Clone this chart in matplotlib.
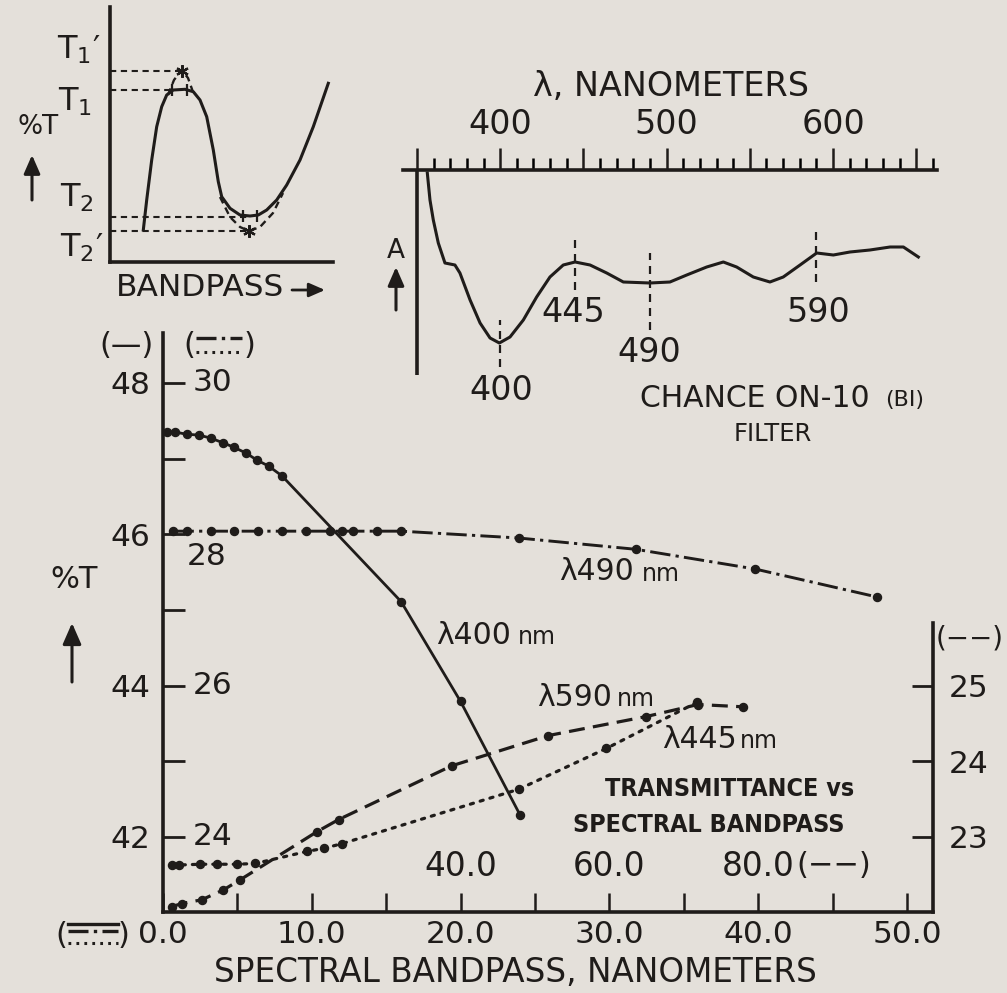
import numpy as np
import matplotlib
matplotlib.use("Agg")
import matplotlib.pyplot as plt
from matplotlib import font_manager
from matplotlib.lines import Line2D
from matplotlib.patches import FancyArrowPatch

W, H = 1007, 993
BG = "#e4e0da"
INK = "#1f1c1a"

# ---- main chart: %T versus spectral bandpass (nm) ----
# lambda 400 nm, solid line, left scale (—), bottom scale
bw_400 = [0.25, 0.8, 1.6, 2.4, 3.2, 4.0, 4.75, 5.6, 6.3, 7.1, 8.0, 16.0, 20.0, 24.0]
t_400 = [47.35, 47.35, 47.32, 47.31, 47.27, 47.21, 47.15, 47.07, 46.98, 46.90, 46.77, 45.11, 43.79, 42.29]

# lambda 490 nm, dash-dot line, inner left scale, bottom scale
bw_490 = [0.7, 1.6, 3.2, 4.8, 6.4, 8.0, 9.6, 11.2, 12.0, 12.8, 14.4, 16.0, 23.9, 31.8, 39.8, 48.0]
t_490 = [28.04, 28.04, 28.04, 28.04, 28.04, 28.04, 28.04, 28.04, 28.04, 28.04, 28.04, 28.04,
         27.95, 27.80, 27.54, 27.17]

# lambda 445 nm, dotted line, inner left scale, bottom scale
bw_445 = [0.6, 1.1, 2.5, 3.6, 5.0, 6.2, 9.7, 10.8, 12.0, 23.9, 29.8, 35.9]
t_445 = [23.63, 23.63, 23.64, 23.64, 23.64, 23.65, 23.81, 23.85, 23.91, 24.63, 25.17, 25.78]

# lambda 590 nm, dashed line, right scale (--), inner bandpass scale (--)
bw_590 = [1.2, 2.5, 5.2, 8.1, 10.3, 20.7, 23.6, 38.8, 51.8, 64.9, 71.9, 77.9]
t_590 = [22.08, 22.12, 22.17, 22.30, 22.43, 23.07, 23.23, 23.94, 24.34, 24.59, 24.75, 24.72]

x_ticks = list(range(0, 51, 5))
y_ticks_left = list(range(42, 49))
y_labels_left = [42, 44, 46, 48]
y_labels_inner = [30, 26, 24]
y_ticks_right = [23, 24, 25]
x_labels_inner = [40, 60, 80]

# ---- absorption spectrum of the filter ----
wl = [356.2, 357.8, 359.8, 362.8, 366.8, 372.8, 375.8, 381.9, 387.9, 393.9, 399.5, 405.9,
      413.9, 421.9, 429.9, 437.9, 445.0, 454.0, 464.0, 474.0, 490.0, 502.0, 512.1, 524.1,
      534.1, 542.1, 552.1, 562.1, 570.1, 580.2, 590.2, 600.2, 610.2, 622.2, 634.3, 642.3, 651.3]
absb = [2.02, 1.75, 1.55, 1.32, 1.12, 1.10, 1.02, 0.75, 0.52, 0.37, 0.32, 0.38,
        0.55, 0.78, 0.98, 1.10, 1.13, 1.10, 1.02, 0.93, 0.92, 0.93, 1.00, 1.08,
        1.13, 1.08, 0.98, 0.93, 0.98, 1.10, 1.22, 1.20, 1.23, 1.25, 1.28, 1.28, 1.18]
mark_wl = [400, 445, 490, 590]
mark_lo = [0.08, 0.85, 0.45, 0.93]
mark_hi = [0.55, 1.37, 1.22, 1.47]

# ---- sketch of %T versus bandpass ----
sk_x = [3.33, 3.67, 4.17, 4.67, 5.17, 5.67, 6.33, 7.5, 8.33, 9.0, 9.67, 10.33, 10.83, 11.17,
        12.0, 13.0, 14.0, 14.83, 15.67, 16.67, 17.67, 19.0, 20.33, 21.83]
sk_y = [3.2, 6.2, 10.2, 13.53, 15.53, 16.7, 17.2, 17.27, 17.03, 16.2, 14.53, 11.2, 8.03, 6.53,
        5.37, 4.7, 4.6, 4.7, 5.2, 6.2, 7.7, 10.2, 13.53, 17.87]
pk_x = [5.8, 6.4, 7.17, 7.8, 8.3]
pk_y = [16.7, 18.2, 19.2, 18.4, 17.0]
vl_x = [11.0, 12.0, 13.0, 13.9, 15.0, 16.3, 17.3]
vl_y = [6.5, 4.5, 3.5, 3.1, 3.5, 4.9, 6.9]
levels = {"T1p": 19.1, "T1": 17.2, "T2": 4.5, "T2p": 3.1}
level_x = {"T1p": 7.17, "T1": 6.5, "T2": 14.0, "T2p": 13.9}

plt.rcParams["font.family"] = ["DejaVu Sans"]
names = {f.name for f in font_manager.fontManager.ttflist}
if "Liberation Sans Narrow" in names:
    COND = dict(family="Liberation Sans Narrow", weight="bold")
else:
    COND = dict(family="DejaVu Sans", stretch="condensed", weight="bold")

fig = plt.figure(figsize=(W / 100, H / 100), dpi=100, facecolor=BG)


def px_axes(x0, y0, x1, y1):
    a = fig.add_axes([x0 / W, 1 - y1 / H, (x1 - x0) / W, (y1 - y0) / H])
    a.set_facecolor("none")
    return a


def ftext(x, y, s, **kw):
    kw.setdefault("ha", "center")
    kw.setdefault("va", "center")
    kw.setdefault("color", INK)
    return fig.text(x / W, 1 - y / H, s, **kw)


def fline(xs, ys, **kw):
    kw.setdefault("color", INK)
    fig.add_artist(Line2D([x / W for x in xs], [1 - y / H for y in ys],
                          transform=fig.transFigure, **kw))


def farrow(x0, y0, x1, y1, lw=2.2, scale=16):
    fig.add_artist(FancyArrowPatch((x0 / W, 1 - y0 / H), (x1 / W, 1 - y1 / H),
                                   transform=fig.transFigure, color=INK, lw=lw,
                                   arrowstyle="-|>,head_length=0.8,head_width=0.35",
                                   mutation_scale=scale, shrinkA=0, shrinkB=0))


def lam_label(x, y, num, x_nm):
    ftext(x, y, "λ" + num, fontsize=21.5, ha="left")
    ftext(x_nm, y + 2, "nm", fontsize=17, ha="left")


# ================= main chart =================
X0, X1 = 0.0, 51.75
Y0, Y1 = 41.009, 48.658
RECT = (163, 333, 933, 912)

ax = px_axes(*RECT)
ax.set_xlim(X0, X1)
ax.set_ylim(Y0, Y1)
for s in ("top", "right"):
    ax.spines[s].set_visible(False)
for s in ("left", "bottom"):
    ax.spines[s].set_linewidth(2.6)
    ax.spines[s].set_color(INK)
ax.set_xticks(x_ticks, labels=[f"{v:.1f}" if v % 10 == 0 else "" for v in x_ticks])
ax.tick_params(axis="x", direction="in", length=14, width=1.8, pad=6,
               labelsize=22.5, colors=INK)
ax.set_yticks(y_ticks_left,
              labels=[str(v) if v in y_labels_left else "" for v in y_ticks_left])
ax.tick_params(axis="y", direction="in", length=16, width=2.0, pad=9,
               labelsize=22.5, colors=INK)

ax.plot(bw_400, t_400, color=INK, lw=2.0, marker="o", ms=5.8, zorder=3)

# inner left scale (dash-dot and dotted curves)
ax_s = px_axes(*RECT)
ax_s.set_xlim(X0, X1)
ax_s.set_ylim(Y0 - 18, Y1 - 18)
ax_s.axis("off")
ax_s.plot(bw_490, t_490, color=INK, lw=2.1, marker="o", ms=5.8,
          dashes=(7.0, 1.8, 1.1, 1.8))
ax_s.plot(bw_445, t_445, color=INK, lw=2.3, marker="o", ms=5.8,
          dashes=(1.0, 2.2), dash_capstyle="round")
ytr = ax_s.get_yaxis_transform()
for v in y_labels_inner:
    ax_s.text(0.039, v, str(v), transform=ytr, ha="left", va="center",
              fontsize=22.5, color=INK)
ax_s.annotate("28", xy=(0.057, 28), xycoords=ytr, xytext=(0, -16),
              textcoords="offset points", ha="center", va="center",
              fontsize=22.5, color=INK)

# right scale and doubled bandpass scale (dashed curve)
ax_d = px_axes(*RECT)
ax_d.set_xlim(2 * X0, 2 * X1)
ax_d.set_ylim(Y0 - 19, Y1 - 19)
for s in ("top", "left", "bottom"):
    ax_d.spines[s].set_visible(False)
ax_d.spines["right"].set_linewidth(2.6)
ax_d.spines["right"].set_color(INK)
ax_d.spines["right"].set_bounds(Y0 - 19, 25.83)
ax_d.set_xticks([])
ax_d.yaxis.tick_right()
ax_d.set_yticks(y_ticks_right, labels=[str(v) for v in y_ticks_right])
ax_d.tick_params(axis="y", direction="in", length=15, width=2.0, pad=11,
                 labelsize=22.5, colors=INK)
ax_d.plot(bw_590, t_590, color=INK, lw=2.3, marker="o", ms=5.8, dashes=(5.0, 2.6))
xtr = ax_d.get_xaxis_transform()
for v in x_labels_inner:
    ax_d.text(v, 0.0794, f"{v:.1f}", transform=xtr, ha="center", va="center",
              fontsize=23.5, color=INK)
ftext(834, 866, "(−−)", fontsize=22)
ftext(970, 638, "(−−)", fontsize=20)

# curve labels
lam_label(436, 635, "400", 518)
lam_label(537, 697, "590", 617)
lam_label(662, 739, "445", 740)
lam_label(559, 572, "490", 642)
ftext(730, 789, "TRANSMITTANCE vs", fontsize=18, **COND)
ftext(709, 825, "SPECTRAL BANDPASS", fontsize=18, **COND)

# axis titles and scale keys
ftext(515, 972, "SPECTRAL BANDPASS, NANOMETERS", fontsize=23.5)
ftext(74, 580, "%T", fontsize=22)
farrow(72, 682, 72, 623)
ftext(126, 345, "(—)", fontsize=22)
ftext(189, 345, "(", fontsize=22)
ftext(249, 345, ")", fontsize=22)
fline([196, 242], [338, 338], lw=2.4, dashes=(6.0, 1.6, 1.0, 1.6))
fline([196, 242], [352, 352], lw=2.2, dashes=(0.9, 1.7))
ftext(61, 936, "(", fontsize=22)
ftext(124, 936, ")", fontsize=22)
fline([68, 118], [924, 924], lw=2.4)
fline([68, 118], [931, 931], lw=2.4, dashes=(6.0, 1.6, 1.0, 1.6))
fline([68, 118], [943, 943], lw=2.2, dashes=(0.9, 1.7))

# ================= filter absorption spectrum =================
axi = px_axes(403, 170, 937, 375)
axi.set_xlim(350 - 14 / 1.664, 350 + 520 / 1.664)
axi.set_ylim(0, 2.05)
for s in ("left", "right", "bottom"):
    axi.spines[s].set_visible(False)
axi.spines["top"].set_linewidth(2.6)
axi.spines["top"].set_color(INK)
axi.xaxis.tick_top()
maj = list(range(350, 651, 50))
axi.set_xticks(maj, labels=[str(v) if v % 100 == 0 else "" for v in maj])
axi.set_xticks(list(range(350, 661, 10)), minor=True)
axi.tick_params(axis="x", which="major", direction="out", length=16, width=1.8,
                pad=5, labelsize=24, colors=INK)
axi.tick_params(axis="x", which="minor", direction="out", length=9, width=1.8)
axi.set_yticks([])
axi.axvline(350, color=INK, lw=2.6)
axi.plot(wl, absb, color=INK, lw=2.2)
axi.vlines(mark_wl, mark_lo, mark_hi, colors=INK, lw=1.6, linestyles=(0, (3.6, 2.7)))
ftext(671, 86, "λ, NANOMETERS", fontsize=24)
ftext(396, 251, "A", fontsize=19)
farrow(396, 310, 396, 267, scale=14)
ftext(501, 390, "400", fontsize=24)
ftext(573, 312, "445", fontsize=24)
ftext(649, 353, "490", fontsize=24)
ftext(818, 312, "590", fontsize=24)
ftext(640, 398, "CHANCE ON-10", fontsize=21.5, ha="left")
ftext(905, 400, "(BI)", fontsize=16)
ftext(773, 434, "FILTER", fontsize=17.5)

# ================= bandpass sketch =================
axk = px_axes(110, 7, 333, 262)
axk.set_xlim(0, 22.3)
axk.set_ylim(0, 25.5)
for s in ("top", "right"):
    axk.spines[s].set_visible(False)
for s in ("left", "bottom"):
    axk.spines[s].set_linewidth(2.6)
    axk.spines[s].set_color(INK)
axk.set_xticks([])
axk.set_yticks([])
axk.plot(sk_x, sk_y, color=INK, lw=2.2)
axk.plot(pk_x, pk_y, color=INK, lw=1.7, dashes=(3, 2))
axk.plot(vl_x, vl_y, color=INK, lw=1.7, dashes=(3, 2))
for k in levels:
    axk.plot([0, level_x[k]], [levels[k], levels[k]], color=INK, lw=1.5, dashes=(3, 2.2))
axk.plot([level_x["T1p"], level_x["T2p"]], [levels["T1p"], levels["T2p"]],
         ls="none", marker=(6, 2, 0), ms=9, mew=1.6, color=INK)
axk.plot([6.17, 7.67, 13.3, 14.7], [17.2, 17.25, 4.65, 4.65], ls="none",
         marker="|", ms=9, mew=1.6, color=INK)
ftext(79, 50, r"$\mathregular{T_1}$′", fontsize=23)
ftext(75, 102, r"$\mathregular{T_1}$", fontsize=23)
ftext(77, 198, r"$\mathregular{T_2}$", fontsize=23)
ftext(82, 248, r"$\mathregular{T_2}$′", fontsize=23)
ftext(38, 127, "%T", fontsize=19)
farrow(32, 200, 32, 155, scale=14)
ftext(200, 288, "BANDPASS", fontsize=22.5)
farrow(292, 290, 325, 290, lw=2.0, scale=12)

fig.savefig("out.png", dpi=100, facecolor=BG)
